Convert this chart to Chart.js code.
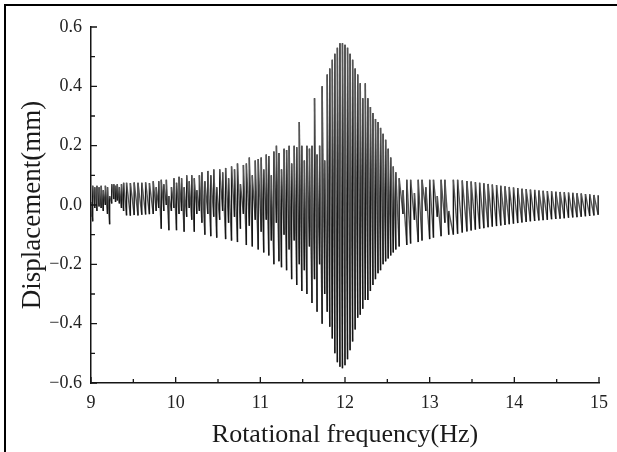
<!DOCTYPE html>
<html>
<head>
<meta charset="utf-8">
<script src="https://cdn.jsdelivr.net/npm/chart.js@4.4.1/dist/chart.umd.min.js"></script>
<style>
  html, body { margin: 0; padding: 0; background: #fff; }
  #wrap { position: relative; width: 617px; height: 452px; overflow: hidden; }
  #frame { position: absolute; left: 4px; top: 4px; width: 700px; height: 600px;
           border-top: 2px solid #000; border-left: 2px solid #000; }
  canvas { position: absolute; left: 0; top: 0; }
</style>
</head>
<body>
<div id="wrap"><div id="frame"></div><canvas id="chart" width="617" height="452"></canvas></div>
<script>
const freq = [
  9.00, 9.02, 9.045, 9.07, 9.095, 9.12, 9.145, 9.17, 9.195, 9.22, 9.245,
  9.27, 9.29, 9.31, 9.335, 9.36, 9.385,
  9.42, 9.465, 9.51, 9.555, 9.60, 9.645, 9.69, 9.735,
  9.77, 9.80, 9.83, 9.86, 9.89, 9.92, 9.95, 9.98, 10.01, 10.04, 10.07, 10.10, 10.13, 10.16, 10.19, 10.22, 10.25, 10.28,
  10.31, 10.345, 10.38, 10.415, 10.45, 10.485, 10.52, 10.555, 10.59, 10.625, 10.66, 10.695, 10.73, 10.765, 10.80, 10.835, 10.87, 10.905, 10.94, 10.975,
  11.01, 11.04, 11.07, 11.10, 11.13, 11.16, 11.19, 11.22, 11.25, 11.28, 11.31, 11.34, 11.37, 11.40, 11.43, 11.46, 11.49, 11.52,
  11.55, 11.58, 11.61, 11.64, 11.67, 11.70, 11.73, 11.76, 11.79,
  11.82, 11.85, 11.88, 11.91, 11.94, 11.97, 12.00, 12.03, 12.06, 12.09, 12.12, 12.15, 12.18, 12.21, 12.24,
  12.27, 12.30, 12.33, 12.36, 12.39, 12.42, 12.45, 12.48, 12.51, 12.54, 12.57, 12.60,
  12.64, 12.685, 12.73, 12.775, 12.82, 12.865, 12.91, 12.955, 13.00, 13.045, 13.09, 13.135, 13.18, 13.225,
  13.28, 13.33, 13.385, 13.44, 13.49, 13.54, 13.59, 13.64, 13.69, 13.74, 13.79, 13.84, 13.89, 13.94, 13.99, 14.04, 14.09, 14.14,
  14.19, 14.24, 14.29, 14.34, 14.39, 14.44, 14.49, 14.54, 14.59, 14.64, 14.69, 14.74, 14.79, 14.84, 14.89, 14.94, 14.99
];
const peak = [
  0.01, 0.065, 0.06, 0.065, 0.06, 0.065, 0.05, 0.065, 0.06, 0.03, 0.07,
  0.07, 0.065, 0.07, 0.06, 0.07, 0.075,
  0.075, 0.074, 0.076, 0.075, 0.075, 0.076, 0.074, 0.08,
  0.06, 0.08, 0.085, 0.07, 0.085, 0.03, 0.06, 0.09, 0.075, 0.095, 0.09, 0.06, 0.1, 0.08, 0.1, 0.09, 0.05, 0.1,
  0.11, 0.08, 0.115, 0.1, 0.12, 0.06, 0.12, 0.11, 0.125, 0.09, 0.13, 0.12, 0.14, 0.07, 0.135, 0.14, 0.16, 0.1, 0.15, 0.155,
  0.16, 0.12, 0.17, 0.165, 0.1, 0.18, 0.2, 0.175, 0.12, 0.19, 0.185, 0.2, 0.14, 0.2, 0.195, 0.28, 0.2, 0.15,
  0.2, 0.19, 0.2, 0.36, 0.17, 0.2, 0.4, 0.15, 0.44,
  0.46, 0.49, 0.51, 0.53, 0.545, 0.545, 0.54, 0.53, 0.51, 0.49, 0.46, 0.44, 0.41, 0.36, 0.41,
  0.36, 0.33, 0.31, 0.29, 0.28, 0.26, 0.24, 0.22, 0.19, 0.16, 0.13, 0.11,
  0.09, 0.05, 0.085, 0.085, 0.04, 0.085, 0.085, 0.06, 0.085, 0.085, 0.03, 0.085, 0.085, -0.02,
  0.085, 0.085, 0.083, 0.081, 0.079, 0.077, 0.075, 0.073, 0.071, 0.069, 0.067, 0.065, 0.063, 0.061, 0.059, 0.057, 0.055, 0.054,
  0.052, 0.051, 0.049, 0.048, 0.047, 0.046, 0.045, 0.044, 0.043, 0.042, 0.041, 0.04, 0.039, 0.037, 0.036, 0.034, 0.033
];
const trough = [
  -0.04, -0.055, -0.01, -0.02, -0.005, -0.01, -0.02, 0.0, -0.03, -0.065, 0.005,
  0.02, 0.01, 0.015, 0.005, -0.01, -0.02,
  -0.035, -0.036, -0.034, -0.035, -0.033, -0.032, -0.031, -0.03,
  -0.02, -0.01, -0.08, -0.02, 0.0, -0.085, -0.02, -0.01, -0.085, -0.03, -0.02, -0.09, -0.04, -0.01, -0.05, -0.09, -0.03, -0.02,
  -0.06, -0.1, -0.03, -0.105, -0.04, -0.11, -0.05, -0.02, -0.115, -0.06, -0.12, -0.04, -0.125, -0.08, -0.03, -0.135, -0.07, -0.14, -0.05, -0.15,
  -0.09, -0.16, -0.05, -0.17, -0.12, -0.2, -0.06, -0.19, -0.21, -0.1, -0.22, -0.15, -0.25, -0.12, -0.27, -0.2, -0.29, -0.22,
  -0.3, -0.14, -0.33, -0.25, -0.36, -0.2, -0.4, -0.3, -0.36,
  -0.41, -0.45, -0.5, -0.53, -0.545, -0.55, -0.54, -0.52, -0.49, -0.46, -0.42, -0.38, -0.37, -0.35, -0.32,
  -0.32, -0.29, -0.27, -0.25, -0.23, -0.22, -0.2, -0.19, -0.18, -0.17, -0.16, -0.15,
  -0.14, -0.03, -0.135, -0.13, -0.05, -0.125, -0.12, -0.02, -0.115, -0.11, -0.04, -0.105, -0.06, -0.1,
  -0.1, -0.097, -0.093, -0.089, -0.086, -0.083, -0.08, -0.078, -0.075, -0.073, -0.071, -0.069, -0.067, -0.065, -0.063, -0.061, -0.059, -0.057,
  -0.055, -0.054, -0.052, -0.051, -0.05, -0.048, -0.047, -0.046, -0.045, -0.043, -0.042, -0.041, -0.04, -0.038, -0.037, -0.035, -0.033
];

const xTicks = [9, 10, 11, 12, 13, 14, 15];
const xMinor = [9.5, 10.5, 11.5, 12.5, 13.5, 14.5];
const yTicks = [-0.6, -0.4, -0.2, 0, 0.2, 0.4, 0.6];
const yMinor = [-0.5, -0.3, -0.1, 0.1, 0.3, 0.5];

// each swing: jump straight up at the cycle position, then slide down to the next trough
const points = [];
freq.forEach((f, i) => {
  points.push({ x: f, y: trough[i] });
  points.push({ x: f, y: peak[i] });
});

const ink = '#151515';
const fade = '#555555';
const serif = 'Liberation Serif, Times New Roman, serif';

// small inward tick marks like the original plot
const innerTicks = {
  id: 'innerTicks',
  afterDraw(chart) {
    const { ctx, chartArea: a, scales: { x, y } } = chart;
    ctx.save();
    ctx.strokeStyle = ink;
    ctx.lineWidth = 1.3;
    ctx.beginPath();
    xTicks.forEach(v => { const p = x.getPixelForValue(v); ctx.moveTo(p, a.bottom); ctx.lineTo(p, a.bottom - 6); });
    xMinor.forEach(v => { const p = x.getPixelForValue(v); ctx.moveTo(p, a.bottom); ctx.lineTo(p, a.bottom - 4); });
    yTicks.forEach(v => { const p = y.getPixelForValue(v); ctx.moveTo(a.left, p); ctx.lineTo(a.left + 6, p); });
    yMinor.forEach(v => { const p = y.getPixelForValue(v); ctx.moveTo(a.left, p); ctx.lineTo(a.left + 4, p); });
    ctx.stroke();
    ctx.restore();
  }
};

new Chart(document.getElementById('chart'), {
  type: 'line',
  data: {
    datasets: [{
      data: points,
      borderColor: ink,
      borderWidth: 1.4,
      pointRadius: 0,
      tension: 0,
      fill: false,
      // rises print dark, the sloping returns come out lighter
      segment: {
        borderColor: c => (c.p0.parsed.x === c.p1.parsed.x ? ink : fade)
      }
    }]
  },
  options: {
    responsive: false,
    animation: false,
    layout: { padding: { left: 0, top: 27, right: 13, bottom: 0 } },
    plugins: { legend: { display: false }, tooltip: { enabled: false } },
    scales: {
      x: {
        type: 'linear',
        min: 9,
        max: 15,
        afterBuildTicks: s => { s.ticks = xTicks.map(v => ({ value: v })); },
        afterFit: s => { s.height = 69; },
        grid: { display: false, drawTicks: false },
        border: { display: true, color: ink, width: 1.5 },
        ticks: {
          color: '#222',
          padding: 9,
          maxRotation: 0,
          font: { family: serif, size: 18 },
          callback: v => String(v)
        },
        title: {
          display: true,
          text: 'Rotational frequency(Hz)',
          color: '#1a1a1a',
          font: { family: serif, size: 26, lineHeight: 1 },
          padding: { top: 4, bottom: 4 }
        }
      },
      y: {
        min: -0.6,
        max: 0.6,
        afterBuildTicks: s => { s.ticks = yTicks.map(v => ({ value: v })); },
        afterFit: s => { s.width = 91; },
        grid: { display: false, drawTicks: false },
        border: { display: true, color: ink, width: 1.5 },
        ticks: {
          color: '#222',
          padding: 9,
          font: { family: serif, size: 18 },
          callback: v => (v < 0 ? '\u2212' : '') + Math.abs(v).toFixed(1)
        },
        title: {
          display: true,
          text: 'Displacement(mm)',
          color: '#1a1a1a',
          font: { family: serif, size: 27, lineHeight: 1 },
          padding: { top: 19, bottom: 19 }
        }
      }
    }
  },
  plugins: [innerTicks]
});
</script>
</body>
</html>
